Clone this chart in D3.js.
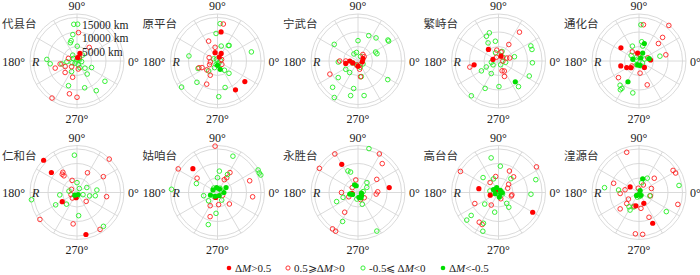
<!DOCTYPE html>
<html><head><meta charset="utf-8">
<script src="https://cdn.jsdelivr.net/npm/d3@7"></script>
<style>body{margin:0;background:#fff}svg{display:block}</style>
</head><body>
<svg id="chart" width="700" height="275"></svg>
<script>
// classes: A = ΔM>0.5, B = 0.5≥ΔM>0, C = -0.5≤ΔM<0, D = ΔM<-0.5
const stations = ["代县台","原平台","宁武台","繁峙台","通化台","仁和台","姑咱台","永胜台","高台台","湟源台"];
const angleTicks = [0, 90, 180, 270];
const angleLabels = ["0°","90°","180°","270°"];
const ringTicks = [5000, 10000, 15000];
const ringLabels = ["5000 km","10000 km","15000 km"];
const rMax = 16200;

// [azimuth (deg), epicentral distance (km), class]
const daixian = [
 [95,12700,"C"],[89,12700,"C"],[99,9200,"C"],[106,7300,"C"],[110,6700,"C"],[89,5100,"C"],[177,10400,"C"],[186,9300,"C"],[184,3500,"C"],[191,5300,"C"],[126,2500,"C"],[47,2800,"C"],[318,3700,"C"],[336,5500,"C"],[294,2500,"C"],[243,4100,"C"],[324,11900,"C"],[303,12200,"C"],[286,9600,"C"],[251,9000,"C"],[308,5700,"C"],[100,400,"C"],[49,1200,"C"],[229,1000,"C"],[352,1600,"C"],[288,1400,"C"],[144,1500,"C"],[20,800,"C"],[200,1800,"C"],
 [87,9800,"B"],[48,6300,"B"],[198,7900,"B"],[190,5900,"B"],[205,4500,"B"],[224,5700,"B"],[236,15400,"B"],[270,12500,"B"],[257,11600,"B"],[163,3100,"B"],[255,5800,"B"],[279,2800,"B"],[227,2700,"B"],[60,1500,"B"],
 [69,2800,"A"],[80,1200,"A"]
];
const yuanping = [
 [86,12900,"C"],[93,9500,"C"],[53,6700,"C"],[55,6500,"C"],[15,12100,"C"],[76,5300,"C"],[170,10000,"C"],[201,7200,"C"],[216,15300,"C"],[226,10200,"C"],[307,4000,"C"],[313,5800,"C"],[286,9500,"C"],[272,12300,"C"],[228,4600,"C"],[246,2500,"C"],[120,700,"C"],[300,900,"C"],[250,1300,"C"],[10,1000,"C"],[150,1500,"C"],
 [81,12900,"B"],[114,7500,"B"],[100,4800,"B"],[158,3100,"B"],[188,2500,"B"],[205,3000,"B"],[203,5800,"B"],[220,4800,"B"],[243,5500,"B"],[245,8800,"B"],[322,1900,"B"],[20,1500,"B"],[200,6800,"B"],
 [83,10100,"A"],[106,3000,"A"],[64,2900,"A"],[67,1500,"A"],[323,11800,"A"],[302,11700,"A"],
 [288,3000,"D"],[270,1500,"D"]
];
const ningwu = [
 [67,9500,"C"],[52,10100,"C"],[35,12600,"C"],[33,12600,"C"],[90,7000,"C"],[145,10000,"C"],[27,6800,"C"],[21,7000,"C"],[183,6800,"C"],[214,5100,"C"],[234,4900,"C"],[220,8900,"C"],[226,12600,"C"],[237,15000,"C"],[261,9600,"C"],[258,12200,"C"],[280,12100,"C"],[328,12100,"C"],[282,5500,"C"],[330,2000,"C"],[290,2300,"C"],[260,1500,"C"],[60,1800,"C"],[120,2800,"C"],[100,3000,"C"],[200,2000,"C"],
 [205,10700,"B"],[180,6300,"B"],[180,4200,"B"],[53,2800,"B"],[35,2600,"B"],[281,2900,"B"],[279,5500,"B"],[300,1500,"B"],[250,1400,"B"],
 [191,4300,"A"],[180,2800,"A"],[200,1900,"A"],[25,1900,"A"],[350,1500,"A"],[270,1800,"A"]
];
const fanshi = [
 [108,10200,"C"],[116,9500,"C"],[120,7200,"C"],[99,6900,"C"],[25,12300,"C"],[19,12200,"C"],[357,11700,"C"],[334,11800,"C"],[308,11200,"C"],[271,8800,"C"],[244,10500,"C"],[232,15200,"C"],[240,5000,"C"],[210,6800,"C"],[206,4700,"C"],[190,2500,"C"],[215,2300,"C"],[15,5700,"C"],[110,3000,"C"],[70,3500,"C"],[40,2000,"C"],[300,1500,"C"],[350,2500,"C"],
 [54,12300,"B"],[58,6700,"B"],[99,3800,"B"],[74,3200,"B"],[192,10100,"B"],[290,3600,"B"],[291,5700,"B"],[300,4000,"B"],[20,3000,"B"],[15,4000,"B"],[0,1500,"B"],[120,1500,"B"],
 [131,5300,"A"],[189,8500,"A"],[164,2000,"A"],[62,1900,"A"],
 [309,9200,"D"]
];
const tonghua = [
 [83,12600,"B"],[50,16000,"B"],[45,11500,"B"],[42,9000,"B"],[13,9500,"B"],[126,3900,"B"],[90,2300,"B"],[275,4200,"B"],[289,8700,"B"],[219,9100,"B"],[215,3000,"B"],[20,3200,"B"],
 [87,12500,"C"],[82,6700,"C"],[76,5300,"C"],[114,5600,"C"],[145,3300,"C"],[13,7400,"C"],[238,11100,"C"],[237,11800,"C"],[232,10600,"C"],[259,11200,"C"],[240,1500,"C"],[290,1700,"C"],[330,1400,"C"],[120,1600,"C"],[20,2000,"C"],[160,1000,"C"],
 [144,7700,"A"],[195,6500,"A"],[208,4800,"A"],[220,3600,"A"],[5,4000,"A"],[100,2800,"A"],[310,2900,"A"],
 [73,6300,"D"],[65,3000,"D"],[165,2200,"D"],[13,3600,"D"],[242,8100,"D"],[280,1500,"D"],[250,1400,"D"],[60,1200,"D"]
];
const renhe = [
 [129,8100,"B"],[128,7300,"B"],[125,8500,"B"],[62,7700,"B"],[31,10600,"B"],[46,16000,"B"],[352,10300,"B"],[316,4400,"B"],[112,4500,"B"],[150,2200,"B"],[200,2200,"B"],[216,15800,"B"],[263,10900,"B"],[302,15000,"B"],[230,2500,"B"],
 [94,12900,"C"],[189,15900,"C"],[188,6000,"C"],[210,8500,"C"],[228,5400,"C"],[274,8000,"C"],[308,14800,"C"],[7,6900,"C"],[350,6400,"C"],[345,4500,"C"],[27,3800,"C"],[90,3400,"C"],[170,2800,"C"],[340,2200,"C"],[270,1500,"C"],[60,1600,"C"],
 [136,16000,"A"],[142,11200,"A"],[212,6000,"A"],[282,14800,"A"],[260,1800,"A"],
 [230,1200,"D"],[300,800,"D"]
];
const guza = [
 [93,16000,"B"],[149,15800,"B"],[145,8600,"B"],[58,8100,"B"],[58,6000,"B"],[62,5000,"B"],[20,11800,"B"],[353,12200,"B"],[316,5700,"B"],[241,5200,"B"],[253,8700,"B"],[275,4200,"B"],[330,2000,"B"],
 [67,13600,"C"],[29,16000,"C"],[25,15900,"C"],[22,16100,"C"],[85,7400,"C"],[90,5100,"C"],[61,7100,"C"],[157,7900,"C"],[176,15900,"C"],[193,4900,"C"],[223,4200,"C"],[266,7200,"C"],[254,11500,"C"],[299,3000,"C"],[130,2000,"C"],[230,1800,"C"],[60,1700,"C"],[20,1500,"C"],
 [136,11800,"A"],[250,1800,"A"],
 [30,3400,"D"],[150,1800,"D"],[100,1700,"D"],[60,1400,"D"],[0,2200,"D"],[200,2600,"D"],[240,1500,"D"],[300,1200,"D"]
];
const yongsheng = [
 [121,15500,"B"],[148,15700,"B"],[61,15200,"B"],[50,13000,"B"],[35,7900,"B"],[100,4400,"B"],[140,2600,"B"],[180,5700,"B"],[205,3500,"B"],[236,8200,"B"],[235,15300,"B"],[240,15400,"B"],[355,6300,"B"],[2,6800,"B"],[320,2800,"B"],[290,2600,"B"],
 [76,15600,"C"],[115,8200,"C"],[110,7500,"C"],[48,4600,"C"],[30,3500,"C"],[203,8000,"C"],[198,5400,"C"],[242,11300,"C"],[296,14800,"C"],[290,4300,"C"],[10,1800,"C"],[260,2300,"C"],[190,2400,"C"],
 [120,11200,"A"],[9,10900,"A"],[190,2000,"A"],
 [114,2900,"D"],[105,2400,"D"],[191,2900,"D"],[200,2000,"D"],[350,1200,"D"],[320,1600,"D"],[280,1700,"D"],[300,2100,"D"]
];
const gaotai = [
 [151,15000,"B"],[34,15800,"B"],[63,8300,"B"],[46,7500,"B"],[100,5600,"B"],[130,4500,"B"],[39,4500,"B"],[25,3500,"B"],[350,4700,"B"],[345,4600,"B"],[205,9000,"B"],[240,5000,"B"],[237,12200,"B"],[243,12400,"B"],[290,2300,"B"],
 [102,12200,"C"],[86,9100,"C"],[136,7400,"C"],[110,5000,"C"],[48,6400,"C"],[19,13600,"C"],[357,11200,"C"],[220,6200,"C"],[221,14500,"C"],[220,12300,"C"],[244,11800,"C"],[248,14400,"C"],[259,6900,"C"],[307,4700,"C"],[305,6200,"C"],[170,3000,"C"],[340,1500,"C"],
 [169,6900,"A"],[198,3000,"A"],[330,13600,"A"],[150,1200,"A"],
 [150,2000,"D"],[110,1800,"D"],[340,800,"D"],[280,1600,"D"],[50,1000,"D"],[200,1200,"D"],[0,1300,"D"]
];
const huangyuan = [
 [107,14500,"B"],[33,14000,"B"],[28,14300,"B"],[43,7200,"B"],[160,9300,"B"],[183,6500,"B"],[169,4900,"B"],[18,4500,"B"],[344,4100,"B"],[212,4300,"B"],[222,5700,"B"],[221,8600,"B"],[277,5500,"B"],[343,14000,"B"],[265,14300,"B"],[275,14500,"B"],[292,9200,"B"],[250,5000,"B"],[100,1500,"B"],[60,3000,"B"],
 [60,5700,"C"],[75,3500,"C"],[173,7100,"C"],[172,12000,"C"],[243,6800,"C"],[235,6000,"C"],[250,5300,"C"],[10,14000,"C"],[325,11500,"C"],[343,3900,"C"],[250,1700,"C"],[280,1400,"C"],[310,1200,"C"],
 [148,3600,"A"],[257,4700,"A"],[294,4100,"A"],[294,11600,"A"],
 [75,4900,"D"],[270,600,"D"],[60,800,"D"],[230,1300,"D"],[300,1100,"D"]
];
const stationData = [daixian, yuanping, ningwu, fanshi, tonghua, renhe, guza, yongsheng, gaotai, huangyuan];

const legendKeys = ["A","B","C","D"];

const svg = d3.select("#chart");
svg.append("rect").attr("width",700).attr("height",275).attr("fill","#fff");

const colX = d3.scalePoint().domain(d3.range(5)).range([77, 639]);
const rowY = d3.scalePoint().domain(d3.range(2)).range([61, 192.5]);
const r = d3.scaleLinear().domain([0, rMax]).range([0, 47]);
const color = d3.scaleOrdinal().domain(legendKeys).range(["#ff0000","#ff2020","#22ee22","#00dd00"]);
const filled = k => k === "A" || k === "D";
const serif = "'Liberation Serif','Times New Roman',serif";
const gridColor = "#d6d6d6";

stations.forEach((name, i) => {
  const cx = colX(i % 5), cy = rowY(Math.floor(i / 5));
  const g = svg.append("g").attr("transform", `translate(${cx},${cy})`);
  // rings
  g.selectAll("circle.ring").data(ringTicks.concat([rMax])).join("circle")
    .attr("r", d => r(d)).attr("fill","none").attr("stroke", gridColor).attr("stroke-width",0.9);
  // spokes
  g.selectAll("line.spoke").data(d3.range(0, 360, 30)).join("line")
    .attr("x1",0).attr("y1",0)
    .attr("x2", d => r(rMax) * Math.cos(d * Math.PI / 180))
    .attr("y2", d => -r(rMax) * Math.sin(d * Math.PI / 180))
    .attr("stroke", gridColor).attr("stroke-width",0.9);
  // points
  const pts = stationData[i];
  const pos = d => [r(Math.min(d[1], rMax)) * Math.cos(d[0] * Math.PI / 180), -r(Math.min(d[1], rMax)) * Math.sin(d[0] * Math.PI / 180)];
  g.selectAll("circle.pt").data(pts).join("circle")
    .attr("cx", d => pos(d)[0]).attr("cy", d => pos(d)[1])
    .attr("r", d => filled(d[2]) ? 2.6 : 2.3)
    .attr("fill", d => filled(d[2]) ? color(d[2]) : "none")
    .attr("stroke", d => color(d[2]))
    .attr("stroke-width", d => filled(d[2]) ? 0 : 0.9);
  // angle labels
  const lab = g.append("g").attr("font-family", serif).attr("font-size", 12).attr("fill", "#222");
  lab.append("text").attr("x", 0).attr("y", -51).attr("text-anchor","middle").text(angleLabels[1]);
  lab.append("text").attr("x", 0).attr("y", 61.5).attr("text-anchor","middle").text(angleLabels[3]);
  lab.append("text").attr("x", 51).attr("y", 4.5).attr("text-anchor","start").text(angleLabels[0]);
  lab.append("text").attr("x", -52).attr("y", 4.5).attr("text-anchor","end").text(angleLabels[2]);
  lab.append("text").attr("x", -45).attr("y", 4.5).attr("font-style","italic").text("R");
  // title
  g.append("text").attr("x", -75).attr("y", -33)
    .attr("font-family","'Noto Sans CJK SC',sans-serif").attr("font-size", 11.5).attr("fill","#333")
    .text(name);
  if (i === 0) {
    const rl = g.append("g").attr("font-family", serif).attr("font-size", 11.5).attr("fill","#222");
    const ry = [-5, -19, -32];
    ringLabels.forEach((t, k) => rl.append("text").attr("x", k === 0 ? 5 : 5).attr("y", ry[k]).text(t));
  }
});

// legend
const legendText = [
  ["Δ", "M", ">0.5"],
  ["0.5⩾Δ", "M", ">0"],
  ["-0.5⩽ Δ", "M", "<0"],
  ["Δ", "M", "<-0.5"]
];
const legX = [229, 288, 363, 443];
const leg = svg.append("g");
legendKeys.forEach((k, i) => {
  leg.append("circle").attr("cx", legX[i]).attr("cy", 268).attr("r", filled(k) ? 2.3 : 2.1)
    .attr("fill", filled(k) ? color(k) : "none").attr("stroke", color(k))
    .attr("stroke-width", filled(k) ? 0 : 0.9);
  const t = leg.append("text").attr("x", legX[i] + 6).attr("y", 272)
    .attr("font-family", serif).attr("font-size", 11).attr("fill","#222");
  t.append("tspan").text(legendText[i][0]);
  t.append("tspan").attr("font-style","italic").text(legendText[i][1]);
  t.append("tspan").text(legendText[i][2]);
});
</script>
</body></html>
